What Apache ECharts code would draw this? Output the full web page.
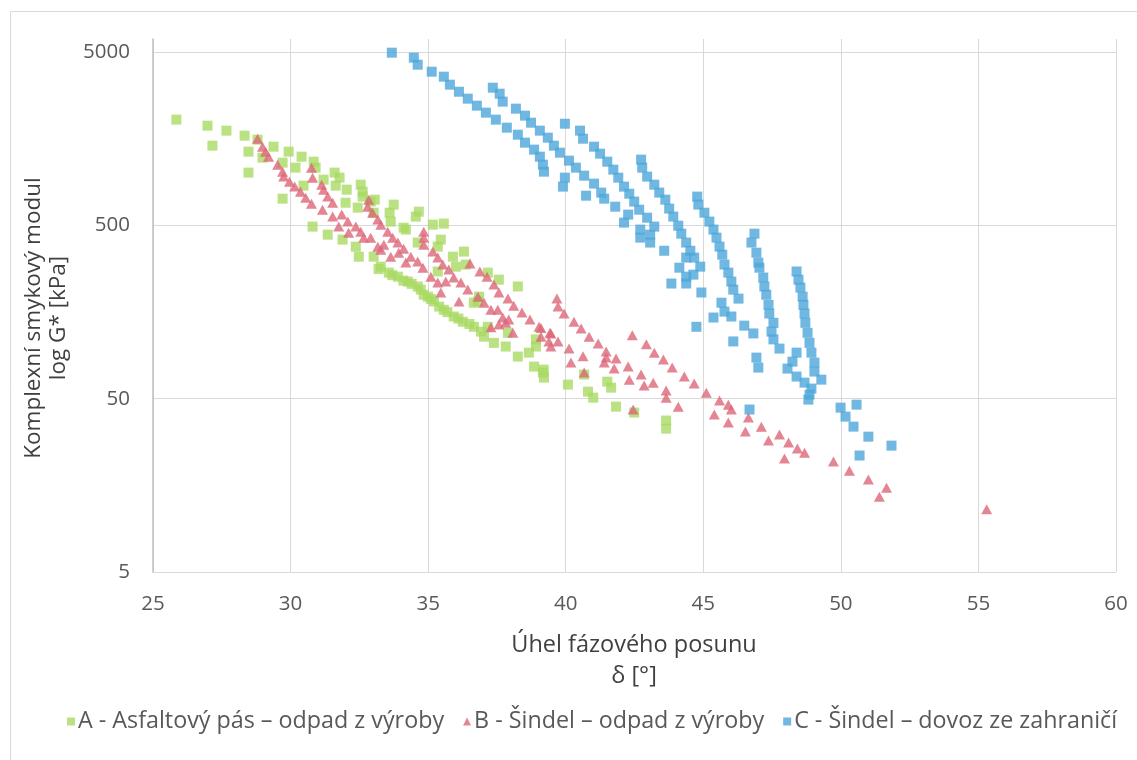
<!DOCTYPE html>
<html>
<head>
<meta charset="utf-8">
<script src="https://cdn.jsdelivr.net/npm/echarts@6/dist/echarts.min.js"></script>
<style>
html,body{margin:0;padding:0;background:#fff;}
#chart{width:1137px;height:760px;}
</style>
</head>
<body>
<div id="chart"></div>
<script>
// ---- data ----
const seriesNames = [
  'A - Asfaltový pás – odpad z výroby',
  'B - Šindel – odpad z výroby',
  'C - Šindel – dovoz ze zahraničí'
];
const xTicks = [25, 30, 35, 40, 45, 50, 55, 60];
const yTicks = [5, 50, 500, 5000];

// [phase angle δ (°), |G*| (kPa)]
const dataA = [
  [25.85,2038],[26.98,1881],[27.16,1442],[27.67,1761],[28.33,1647],[28.47,1332],[28.47,1008],
  [28.80,1562],[28.98,1230],[29.38,1423],[29.71,1151],[29.93,1332],[29.71,713],[30.18,1077],
  [30.40,1246],[30.84,1166],[30.91,1077],[30.47,848],[31.20,918],[31.60,1008],[31.78,943],
  [31.64,848],[32.04,804],[32.00,676],[30.80,492],[31.35,442],[31.89,414],[32.55,859],
  [32.62,783],[32.62,733],[32.44,633],[32.91,686],[33.06,704],[33.02,592],[33.75,659],
  [33.60,592],[33.64,526],[34.66,600],[34.55,562],[34.19,473],[32.37,377],[32.48,330],
  [33.02,330],[33.28,289],[33.57,267],[33.90,253],[34.26,237],[34.62,222],[34.73,213],
  [34.99,194],[35.21,182],[35.57,163],[35.93,149],[36.26,139],[36.66,130],[36.92,122],
  [35.17,505],[35.57,512],[35.46,414],[35.35,377],[35.90,330],[36.30,353],[36.01,289],
  [36.37,297],[36.66,179],[36.85,194],[34.11,485],[34.62,398],[35.35,271],[34.84,199],
  [37.17,130],[37.03,114],[37.39,105],[37.82,100],[38.26,87.5],[38.66,92.2],[38.85,76.6],
  [39.17,70.7],[39.21,66.2],[38.92,110],[38.92,100],[37.90,120],[38.26,222],[37.57,243],
  [37.17,267],[36.81,182],[40.08,60.3],[40.67,68.9],[40.81,54.9],[41.00,50.7],[41.51,62.7],
  [41.65,57.9],[41.83,45.0],[42.49,41.6],[43.65,37.4],[43.65,33.6],[39.20,73.6],
  [33.2,280],[33.7,258],[34.1,240],[34.4,230],[35.1,188],[35.4,170],[35.7,158],[36.1,145],[36.5,135]
];
const dataB = [
  [28.80,1582],[28.98,1423],[29.09,1332],[29.20,1246],[29.53,1121],[29.71,1021],[29.75,956],
  [29.96,894],[30.15,837],[30.36,783],[30.55,723],[30.76,667],[30.76,1077],[30.80,943],
  [31.13,859],[31.20,804],[31.35,733],[31.53,676],[31.16,616],[31.53,562],[31.86,577],
  [31.75,492],[32.11,454],[32.08,526],[32.37,492],[32.55,460],[32.66,425],[32.91,425],
  [32.84,704],[32.80,641],[32.98,592],[33.17,540],[33.28,505],[33.53,460],[33.71,425],
  [33.90,398],[33.17,377],[33.39,387],[33.64,330],[33.93,348],[34.11,367],[34.19,305],
  [34.37,330],[34.62,309],[34.81,285],[34.84,460],[34.84,425],[34.84,387],[35.17,353],
  [35.35,326],[35.53,297],[35.75,278],[35.93,250],[36.19,234],[36.44,213],[36.81,194],
  [37.03,179],[35.10,253],[35.35,234],[35.46,205],[35.64,237],[36.12,182],[36.52,301],
  [36.88,271],[37.14,253],[37.39,228],[37.57,205],[37.90,189],[38.11,172],[38.41,157],
  [38.70,143],[39.03,130],[39.43,120],[39.72,107],[39.39,107],[39.46,100],[40.12,97.3],
  [40.19,80.8],[37.28,163],[37.53,163],[37.71,147],[37.82,137],[37.93,143],[37.57,134],
  [37.28,129],[38.08,120],[33.28,362],[39.68,189],[39.72,170],[39.94,155],[40.30,139],
  [40.56,127],[40.85,114],[41.18,104],[41.47,93.5],[41.83,85.2],[41.47,86.3],[41.40,80.8],
  [41.76,74.6],[42.27,76.6],[42.31,64.4],[42.74,68.9],[42.85,59.5],[43.18,61.9],[43.65,55.7],
  [43.65,50.7],[44.09,45.0],[42.45,43.3],[42.42,116],[42.93,103],[43.22,92.2],[43.55,84.1],
  [43.87,75.6],[44.31,67.1],[44.67,61.1],[45.11,54.2],[45.59,48.8],[45.91,46.2],[46.02,43.3],
  [45.40,40.5],[45.91,36.4],[46.64,38.9],[46.53,32.3],[47.11,34.5],[47.37,28.7],[47.77,31.1],
  [48.10,27.9],[47.95,22.6],[48.42,25.8],[48.68,24.4],[49.73,21.7],[50.31,19.2],[51.00,17.1],
  [51.66,15.3],[51.40,13.6],[55.30,11.5],[39.46,119],[40.63,88],[40.67,70.7],[39.10,128],[39.10,114]
];
const dataC = [
  [33.68,4962],[34.48,4643],[34.62,4229],[35.13,3853],[35.57,3607],[35.79,3243],[36.12,2954],
  [36.44,2693],[36.77,2454],[37.10,2236],[37.46,2038],[37.86,1832],[37.35,3116],[37.60,2877],
  [37.71,2588],[38.19,2358],[38.52,2149],[38.74,1957],[39.06,1761],[39.35,1604],[39.57,1442],
  [39.79,1314],[40.12,1182],[40.37,1077],[40.67,968],[41.03,871],[41.29,773],[38.26,1669],
  [38.52,1501],[38.85,1368],[39.06,1246],[39.17,1121],[39.21,1021],[39.97,1931],[39.97,943],
  [39.90,837],[40.52,1761],[40.63,1582],[41.03,1423],[41.25,1297],[41.51,1166],[41.73,1049],
  [41.91,943],[42.12,837],[42.31,762],[42.49,686],[42.67,616],[42.96,554],[43.22,492],
  [43.07,442],[43.07,398],[42.71,473],[42.71,425],[42.27,577],[42.12,519],[43.58,357],
  [41.40,713],[40.74,742],[41.80,641],[42.74,1198],[42.78,1077],[42.96,956],[43.22,859],
  [43.40,773],[43.62,704],[43.76,625],[43.91,562],[44.09,498],[44.20,448],[44.38,398],
  [44.53,357],[44.38,326],[44.67,326],[44.13,285],[44.38,253],[44.64,260],[44.89,289],
  [44.38,231],[43.84,231],[44.93,205],[44.75,130],[44.78,733],[44.82,659],[45.04,592],
  [45.22,526],[45.37,473],[45.48,425],[45.59,377],[45.69,339],[45.77,297],[45.91,267],
  [46.02,237],[46.09,213],[46.28,189],[45.66,179],[45.77,159],[46.02,149],[45.37,147],
  [46.09,107],[46.49,132],[46.82,119],[46.86,448],[46.75,398],[46.93,348],[47.00,305],
  [47.04,285],[47.18,250],[47.22,222],[47.29,199],[47.37,174],[47.40,155],[47.55,137],
  [47.48,122],[47.55,110],[47.77,97.3],[46.93,86.3],[47.00,75.6],[46.68,43.3],[48.39,271],
  [48.46,243],[48.53,219],[48.61,194],[48.64,174],[48.68,155],[48.71,137],[48.79,120],
  [48.86,105],[48.93,92.2],[49.04,80.8],[49.04,71.7],[49.29,64.4],[48.39,92.2],[48.24,81.8],
  [48.06,74.6],[48.39,67.1],[48.68,61.9],[48.93,57.2],[48.86,52.8],[48.82,49.4],[49.99,44.4],
  [50.57,46.2],[50.17,39.4],[50.46,34.5],[51.00,30.2],[51.84,26.8],[50.68,23.5]
];
const colors = ['#A9DA63', '#DD6778', '#4CA6DA'];

// ---- chart ----
const chart = echarts.init(document.getElementById('chart'), null, {renderer: 'canvas'});
const fontFamily = '"Open Sans", "Noto Sans", sans-serif';
const xTitleFont = '23.5px ' + fontFamily;
const yTitleFont = '22.5px ' + fontFamily;

chart.setOption({
  animation: false,
  backgroundColor: '#ffffff',
  textStyle: {fontFamily: fontFamily},
  grid: {left: 153, right: 21, top: 39, bottom: 188, containLabel: false},
  xAxis: {
    type: 'value', min: 25, max: 60, interval: 5,
    axisLine: {show: true, lineStyle: {color: '#d9d9d9', width: 1}},
    axisTick: {show: false},
    axisLabel: {
      color: '#595959', fontSize: 20.5, margin: 22, fontFamily: fontFamily,
      customValues: xTicks,
      formatter: function (v) { return String(v); }
    },
    splitLine: {show: true, lineStyle: {color: '#d9d9d9', width: 1}}
  },
  yAxis: {
    type: 'log', logBase: 10, min: 5, max: 5950,
    axisLine: {show: true, onZero: false, lineStyle: {color: '#bfbfbf', width: 1.5}},
    axisTick: {show: false, customValues: yTicks},
    axisLabel: {
      color: '#595959', fontSize: 20.5, margin: 23, fontFamily: fontFamily,
      customValues: yTicks,
      formatter: function (v) { return String(Math.round(v)); }
    },
    splitLine: {show: true, lineStyle: {color: '#d9d9d9', width: 1}},
    minorSplitLine: {show: false}
  },
  legend: {
    show: true,
    data: [
      {name: seriesNames[0], icon: 'rect'},
      {name: seriesNames[1], icon: 'triangle'},
      {name: seriesNames[2], icon: 'rect'}
    ],
    left: 62, top: 705,
    itemWidth: 8, itemHeight: 8, itemGap: 19,
    textStyle: {color: '#595959', fontSize: 23.3, fontFamily: fontFamily, padding: [0, 0, 0, -2]}
  },
  graphic: [
    {type: 'rect', silent: true, z: -10,
     shape: {x: 10.5, y: 11.5, width: 1300, height: 900},
     style: {fill: 'none', stroke: '#d9d9d9', lineWidth: 1}},
    {type: 'text', x: 634, y: 645,
     style: {text: 'Úhel fázového posunu', fill: '#404040', font: xTitleFont,
             textAlign: 'center', textVerticalAlign: 'middle'}},
    {type: 'text', x: 634, y: 676,
     style: {text: 'δ [°]', fill: '#404040', font: xTitleFont,
             textAlign: 'center', textVerticalAlign: 'middle'}},
    {type: 'text', x: 34, y: 318, rotation: Math.PI / 2,
     style: {text: 'Komplexní smykový modul', fill: '#404040', font: yTitleFont,
             textAlign: 'center', textVerticalAlign: 'middle'}},
    {type: 'text', x: 59, y: 318, rotation: Math.PI / 2,
     style: {text: 'log G* [kPa]', fill: '#404040', font: yTitleFont,
             textAlign: 'center', textVerticalAlign: 'middle'}}
  ],
  series: [
    {name: seriesNames[0], type: 'scatter', data: dataA, symbol: 'rect', symbolSize: 10,
     itemStyle: {color: colors[0]}, z: 2},
    {name: seriesNames[1], type: 'scatter', data: dataB, symbol: 'triangle', symbolSize: [11, 10],
     itemStyle: {color: colors[1]}, z: 3},
    {name: seriesNames[2], type: 'scatter', data: dataC, symbol: 'rect', symbolSize: 10,
     itemStyle: {color: colors[2]}, z: 4}
  ]
});
</script>
</body>
</html>
